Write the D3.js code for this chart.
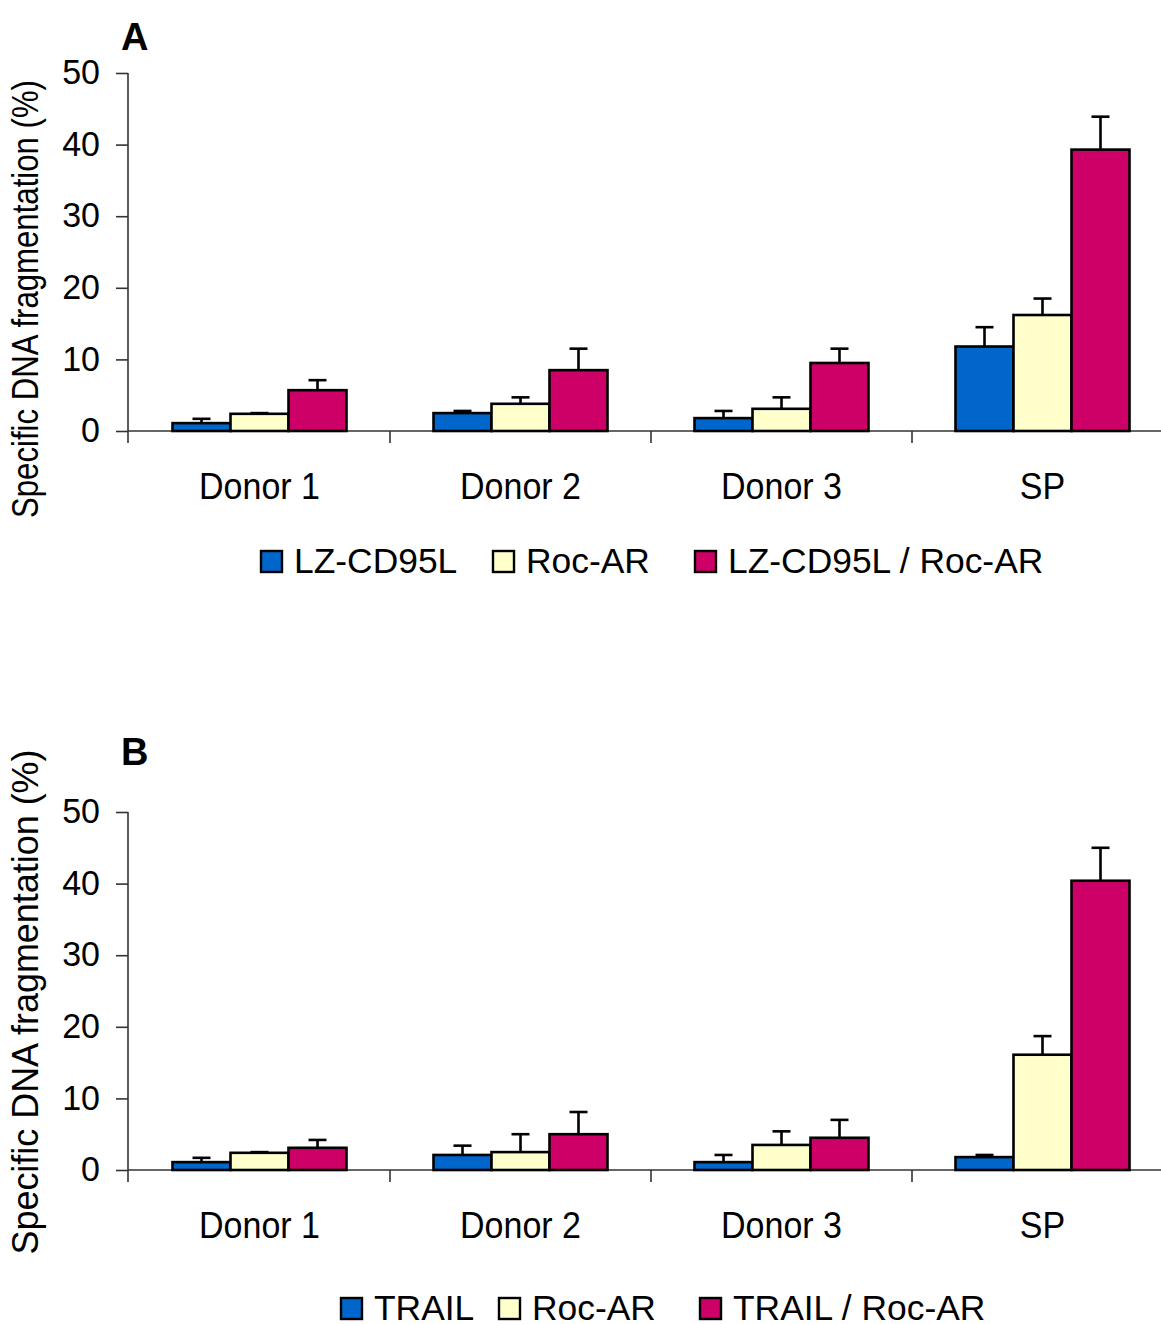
<!DOCTYPE html>
<html>
<head>
<meta charset="utf-8">
<script src="https://cdn.jsdelivr.net/npm/d3@7"></script>
<style>
  html, body { margin: 0; padding: 0; background: #fff; }
  text { font-family: "Liberation Sans", Arial, sans-serif; fill: #000; }
</style>
</head>
<body>
<svg id="chart" width="1161" height="1324"></svg>
<script>
// ---- Data ----
const categories = ["Donor 1", "Donor 2", "Donor 3", "SP"];
const yTicks = [0, 10, 20, 30, 40, 50];

// Panel A
const seriesA = ["LZ-CD95L", "Roc-AR", "LZ-CD95L / Roc-AR"];
const valuesA_LZ = [1.1, 2.5, 1.8, 11.8];
const errorsA_LZ = [0.6, 0.3, 1.0, 2.7];
const valuesA_Roc = [2.4, 3.8, 3.1, 16.2];
const errorsA_Roc = [0.1, 0.9, 1.6, 2.3];
const valuesA_Comb = [5.7, 8.5, 9.5, 39.3];
const errorsA_Comb = [1.4, 3.0, 2.0, 4.6];

// Panel B
const seriesB = ["TRAIL", "Roc-AR", "TRAIL / Roc-AR"];
const valuesB_TRAIL = [1.1, 2.1, 1.1, 1.8];
const errorsB_TRAIL = [0.6, 1.3, 1.0, 0.3];
const valuesB_Roc = [2.4, 2.5, 3.5, 16.1];
const errorsB_Roc = [0.1, 2.5, 1.9, 2.6];
const valuesB_Comb = [3.1, 5.0, 4.5, 40.4];
const errorsB_Comb = [1.1, 3.1, 2.5, 4.6];

const colors = ["#0066CC", "#FFFFCC", "#CC0066"];

const svg = d3.select("#chart");

function drawPanel(cfg) {
  const g = svg.append("g");
  const y = d3.scaleLinear().domain([0, 50]).range([cfg.y0, cfg.y50]);
  const x0 = d3.scaleBand().domain(categories).range([129, 1173]).paddingInner(0).paddingOuter(0);
  const x1 = d3.scaleBand().domain(cfg.series).range([0, x0.bandwidth()]).paddingInner(0).paddingOuter(0.75);

  // y axis
  const yAxis = d3.axisLeft(y).tickValues(yTicks).tickSize(12).tickPadding(16).tickSizeOuter(0);
  const ya = g.append("g").attr("transform", `translate(128,0)`).call(yAxis);
  ya.select(".domain").attr("stroke", "#333").attr("stroke-width", 1.6).attr("d", `M0,${cfg.y50}V${cfg.y0 + 12}`);
  ya.selectAll(".tick line").attr("stroke", "#333").attr("stroke-width", 1.6);
  ya.selectAll(".tick text").style("font-size", "34px").attr("font-family", "Liberation Sans, Arial, sans-serif").attr("fill", "#000")
    .attr("transform", "scale(1,1.05)").attr("dy", "0.3em");

  // x axis line & category ticks
  const bounds = categories.map(c => x0(c)).concat([x0(categories[categories.length - 1]) + x0.bandwidth()]);
  g.append("line").attr("x1", 128).attr("x2", 1175).attr("y1", cfg.y0).attr("y2", cfg.y0)
    .attr("stroke", "#333").attr("stroke-width", 1.6);
  g.selectAll(".ctick").data(bounds.slice(1)).enter().append("line")
    .attr("x1", d => d).attr("x2", d => d).attr("y1", cfg.y0).attr("y2", cfg.y0 + 12)
    .attr("stroke", "#333").attr("stroke-width", 1.6);

  // category labels
  g.selectAll(".clab").data(categories).enter().append("text")
    .attr("transform", d => `translate(${x0(d) + x0.bandwidth() / 2},${cfg.y0 + 68}) scale(1,1.06)`)
    .attr("text-anchor", "middle").style("font-size", "34px").text(d => d);

  // bars
  const groups = g.selectAll(".grp").data(categories).enter().append("g")
    .attr("transform", d => `translate(${x0(d)},0)`);
  cfg.series.forEach((s, si) => {
    const vals = cfg.values[si], errs = cfg.errors[si];
    groups.append("rect")
      .attr("x", x1(s)).attr("width", x1.bandwidth())
      .attr("y", (d, i) => y(vals[i])).attr("height", (d, i) => cfg.y0 - y(vals[i]))
      .attr("fill", colors[si]).attr("stroke", "#000").attr("stroke-width", 2.6);
    const cx = x1(s) + x1.bandwidth() / 2;
    groups.append("line")
      .attr("x1", cx).attr("x2", cx)
      .attr("y1", (d, i) => y(vals[i])).attr("y2", (d, i) => y(vals[i] + errs[i]))
      .attr("stroke", "#000").attr("stroke-width", 2.6);
    groups.append("line")
      .attr("x1", cx - 9).attr("x2", cx + 9)
      .attr("y1", (d, i) => y(vals[i] + errs[i])).attr("y2", (d, i) => y(vals[i] + errs[i]))
      .attr("stroke", "#000").attr("stroke-width", 2.6);
  });

  // y label
  g.append("text")
    .attr("transform", `translate(38,${cfg.labelCenter}) rotate(-90)`)
    .attr("text-anchor", "middle").style("font-size", "37px")
    .attr("textLength", cfg.labelLen).attr("lengthAdjust", "spacingAndGlyphs")
    .text("Specific DNA fragmentation (%)");

  // panel letter
  g.append("text").attr("x", 121).attr("y", cfg.letterY)
    .style("font-size", "38px").style("font-weight", "bold").text(cfg.letter);

  // legend
  const leg = g.selectAll(".leg").data(cfg.series).enter().append("g")
    .attr("transform", (d, i) => `translate(${cfg.legendX[i]},${cfg.legendY})`);
  leg.append("rect").attr("x", 0).attr("y", -22).attr("width", 21).attr("height", 21)
    .attr("fill", (d, i) => colors[i]).attr("stroke", "#000").attr("stroke-width", 2.4);
  leg.append("text").attr("x", 33).attr("y", 0).style("font-size", "35.4px").text(d => d);
}

drawPanel({
  series: seriesA,
  values: [valuesA_LZ, valuesA_Roc, valuesA_Comb],
  errors: [errorsA_LZ, errorsA_Roc, errorsA_Comb],
  y0: 431, y50: 73,
  labelCenter: 299, labelLen: 438,
  letter: "A", letterY: 50,
  legendX: [261, 493, 695], legendY: 573
});

drawPanel({
  series: seriesB,
  values: [valuesB_TRAIL, valuesB_Roc, valuesB_Comb],
  errors: [errorsB_TRAIL, errorsB_Roc, errorsB_Comb],
  y0: 1170, y50: 812,
  labelCenter: 1002, labelLen: 505,
  letter: "B", letterY: 765,
  legendX: [341, 499, 700], legendY: 1320
});
</script>
</body>
</html>
